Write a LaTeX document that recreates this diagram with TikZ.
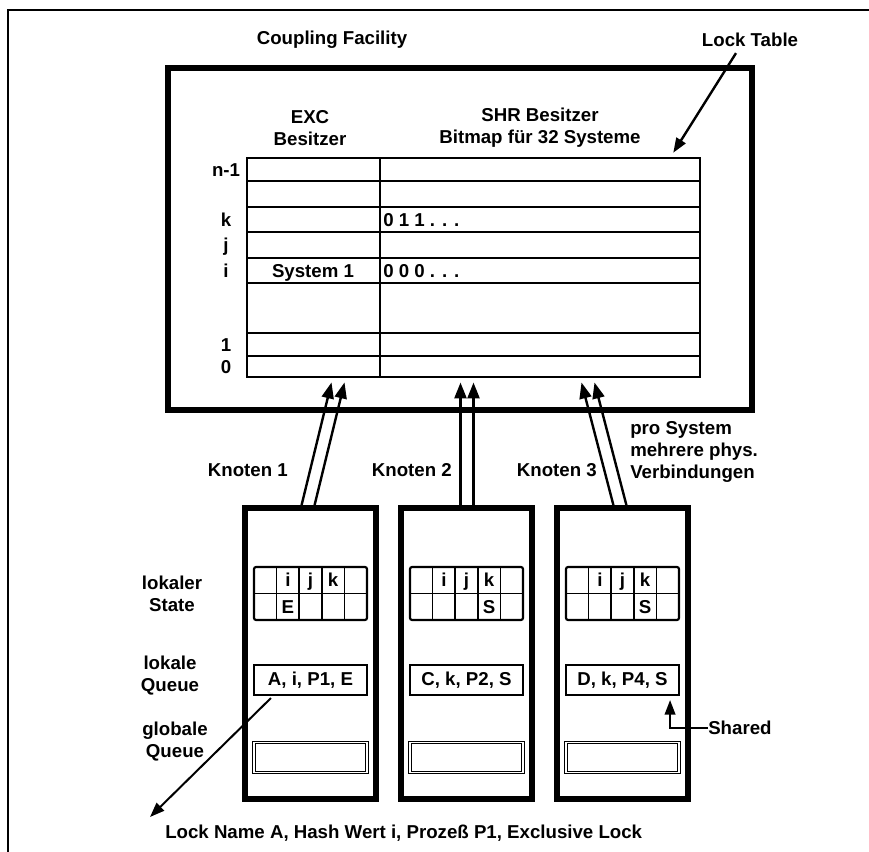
\documentclass[tikz,border=0pt]{standalone}
\usepackage{fontspec}
\setmainfont{Liberation Sans}
\usepackage{tikz}
\usetikzlibrary{arrows.meta, positioning, calc, fit}

\begin{document}
\begin{tikzpicture}[
    x=0.75pt, y=-0.75pt,
    font=\fontsize{14}{16.5}\selectfont\bfseries,
    txt/.style={inner sep=0pt, align=center},
    celltxt/.style={inner sep=0pt, text height=10pt, text depth=0pt},
    bigbox/.style={draw, line width=4.5pt, inner sep=0pt},
    knotbox/.style={draw, line width=3.8pt, inner sep=0pt},
    gridline/.style={line width=1.5pt},
    qbox/.style={draw, line width=1.6pt, inner sep=0pt, minimum width=84.75pt, minimum height=22.5pt},
    gbox/.style={draw, line width=0.9pt, double=white, double distance=1pt, inner sep=0pt, minimum width=84.75pt, minimum height=22.5pt},
    linkarrow/.style={-{Triangle[length=12pt, width=9pt]}, line width=1.8pt},
    thinarrow/.style={-{Triangle[length=11pt, width=8pt]}, line width=1.5pt}
]
\useasboundingbox (0,0) rectangle (869,852);

% outer frame
\draw[line width=1.6pt] (8,852) -- (8,10) -- (869,10);

% Coupling Facility
\node[bigbox, fit={(168,68) (752,410)}] (cf) {};
\node[txt] (cftitle) at (332,40) {Coupling Facility};
\node[txt] (locktitle) at (750,40) {Lock Table};

% Lock table
\node[inner sep=0pt, fit={(247,158) (700,377)}] (tbl) {};
\foreach \y in {181,207,232,258,283,333,356}
  \draw[gridline] (247,\y) -- (700,\y);
\draw[gridline] (tbl.north west) rectangle (tbl.south east);
\draw[gridline] (380,158) -- (380,377);
\draw[thinarrow, line width=1.8pt] ($(locktitle.south)+(-14,6)$) -- ($(tbl.north east)+(-27,-5)$);

\node[txt] (exc) at (310,128) {EXC\\Besitzer};
\node[txt] (shr) at (540,128) {SHR Besitzer\\Bitmap für 32 Systeme};

\foreach \lab/\y in {n-1/169.5, k/219.5, j/245, i/270.5, 1/344.5, 0/366.5}
  \node[celltxt] at (226,\y) {\lab};
\node[celltxt] (sys1) at (313,270.5) {System 1};
\node[celltxt, anchor=west] (bitk) at (383,219.5) {0 1 1 . . .};
\node[celltxt, anchor=west] (biti) at (383,270.5) {0 0 0 . . .};

% Knoten
\foreach \n/\xl/\qtxt/\mark/\mc in {1/245/{A, i, P1, E}/E/1, 2/401/{C, k, P2, S}/S/3, 3/557/{D, k, P4, S}/S/3} {
  \node[knotbox, fit={(\xl,508) (\xl+131,799)}] (k\n) {};
  \foreach \c in {1,...,4}
    \draw[line width=1.3pt] (\xl+9+\c*22.6,567) -- (\xl+9+\c*22.6,620);
  \draw[line width=1.3pt] (\xl+9,593.5) -- (\xl+122,593.5);
  \draw[line width=1.6pt, rounded corners=1.5pt] (\xl+9,567) rectangle (\xl+122,620);
  \foreach \c/\lab in {1/i, 2/j, 3/k}
    \node[celltxt] at (\xl+9+\c*22.6+11.3,580) {\lab};
  \node[celltxt] at (\xl+9+\mc*22.6+11.3,607) {\mark};
  \node[qbox] (q\n) at (\xl+65.5,680) {\qtxt};
  \node[gbox] (g\n) at (\xl+65.5,757.5) {};
}

\node[txt, anchor=east] at (288,470) {Knoten 1};
\node[txt, anchor=east] at (452,470) {Knoten 2};
\node[txt, anchor=east] at (597,470) {Knoten 3};
\node[txt, align=left, anchor=west] (pro) at (630,452) {pro System\\mehrere phys.\\Verbindungen};

% physical links
\foreach \n/\sx/\dx in {1/0/30, 2/3/0, 3/0/-32} {
  \draw[linkarrow] ($(k\n.north)+(-9+\sx,0)$) -- ($(k\n.north)+(-9+\sx+\dx,-123)$);
  \draw[linkarrow] ($(k\n.north)+(4+\sx,0)$) -- ($(k\n.north)+(4+\sx+\dx,-123)$);
}

% left labels
\node[txt] at (172,594) {lokaler\\State};
\node[txt] at (170,676) {lokale\\Queue};
\node[txt] at (175,742) {globale\\Queue};

\node[txt, anchor=west] (shared) at (708,728) {Shared};
\draw[thinarrow] (shared.west) -| ($(q3.south east)+(-10,4)$);

\node[txt, anchor=west] (lockname) at (165,833) {Lock Name A, Hash Wert i, Prozeß P1, Exclusive Lock};
\draw[thinarrow] ($(q1.south west)+(18,2)$) -- ($(lockname.west)+(-15,-16)$);
\end{tikzpicture}
\end{document}
